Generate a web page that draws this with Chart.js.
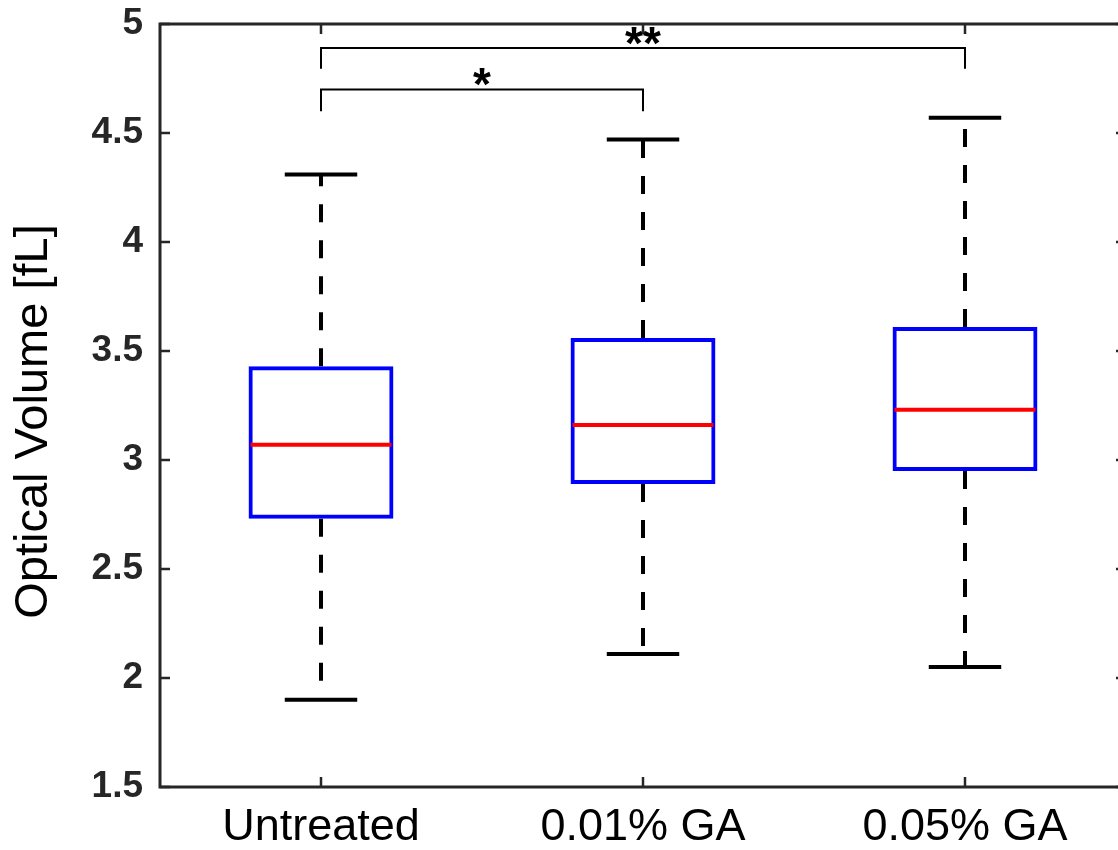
<!DOCTYPE html>
<html>
<head>
<meta charset="utf-8">
<title>Optical Volume boxplot</title>
<script src="https://cdn.jsdelivr.net/npm/chart.js@4"></script>
<style>
    html, body { margin: 0; padding: 0; background: #fff; overflow: hidden; }
    #wrap { width: 1118px; height: 850px; overflow: hidden; }
    canvas { display: block; }
</style>
</head>
<body>
<div id="wrap">
    <canvas id="box-chart" width="1140" height="850"></canvas>
</div>
<script>
// Data
const categories = ['Untreated', '0.01% GA', '0.05% GA'];
const whiskerLow = [1.90, 2.11, 2.05];
const q1 = [2.73, 2.89, 2.95];
const medians = [3.07, 3.16, 3.23];
const q3 = [3.43, 3.56, 3.61];
const whiskerHigh = [4.31, 4.47, 4.57];
const yTicks = [1.5, 2, 2.5, 3, 3.5, 4, 4.5, 5];

// Significance brackets: category pairs, label, bracket level and drop end (data units)
const sigPairs = [[0, 1], [0, 2]];
const sigLabels = ['*', '**'];
const sigLevels = [4.70, 4.89];
const sigDrops = [4.60, 4.795];

const yTitle = 'Optical Volume [fL]';

const FONT = "'Liberation Sans', Arial, Helvetica, sans-serif";
const AXIS_COLOR = '#262626';

// Whiskers, caps, medians, frame with inward ticks, brackets, y title
const boxExtras = {
    id: 'boxExtras',
    afterDatasetsDraw(chart) {
        const ctx = chart.ctx;
        const y = chart.scales.y;
        const meta = chart.getDatasetMeta(0);
        ctx.save();
        meta.data.forEach((bar, i) => {
            const cx = bar.x;
            const half = bar.width / 2;
            const capHalf = half / 2;
            // dashed whiskers
            ctx.strokeStyle = '#000';
            ctx.lineWidth = 4;
            ctx.setLineDash([18, 18]);
            ctx.beginPath();
            ctx.moveTo(cx, y.getPixelForValue(q3[i]));
            ctx.lineTo(cx, y.getPixelForValue(whiskerHigh[i]));
            ctx.moveTo(cx, y.getPixelForValue(q1[i]));
            ctx.lineTo(cx, y.getPixelForValue(whiskerLow[i]));
            ctx.stroke();
            // caps
            ctx.setLineDash([]);
            ctx.beginPath();
            [whiskerHigh[i], whiskerLow[i]].forEach(v => {
                const py = y.getPixelForValue(v);
                ctx.moveTo(cx - capHalf, py);
                ctx.lineTo(cx + capHalf, py);
            });
            ctx.stroke();
            // median
            ctx.strokeStyle = '#ff0000';
            ctx.beginPath();
            const my = y.getPixelForValue(medians[i]);
            ctx.moveTo(cx - half + 2, my);
            ctx.lineTo(cx + half - 2, my);
            ctx.stroke();
        });
        ctx.restore();
    },
    afterDraw(chart) {
        const ctx = chart.ctx;
        const area = chart.chartArea;
        const x = chart.scales.x;
        const y = chart.scales.y;
        const tick = 10;
        ctx.save();
        ctx.strokeStyle = AXIS_COLOR;
        ctx.lineWidth = 3;
        ctx.strokeRect(area.left, area.top, area.right - area.left, area.bottom - area.top);
        ctx.lineWidth = 2.5;
        ctx.beginPath();
        yTicks.forEach(v => {
            const py = y.getPixelForValue(v);
            ctx.moveTo(area.left, py);
            ctx.lineTo(area.left + tick, py);
            ctx.moveTo(area.right, py);
            ctx.lineTo(area.right - tick, py);
        });
        categories.forEach((c, i) => {
            const px = x.getPixelForValue(i);
            ctx.moveTo(px, area.bottom);
            ctx.lineTo(px, area.bottom - tick);
            ctx.moveTo(px, area.top);
            ctx.lineTo(px, area.top + tick);
        });
        ctx.stroke();

        // significance brackets
        ctx.strokeStyle = '#000';
        ctx.fillStyle = '#000';
        ctx.lineWidth = 2;
        ctx.font = 'bold 46px ' + FONT;
        ctx.textAlign = 'center';
        ctx.textBaseline = 'alphabetic';
        sigPairs.forEach((pair, k) => {
            const x1 = x.getPixelForValue(pair[0]);
            const x2 = x.getPixelForValue(pair[1]);
            const top = y.getPixelForValue(sigLevels[k]);
            const drop = y.getPixelForValue(sigDrops[k]);
            ctx.beginPath();
            ctx.moveTo(x1, drop);
            ctx.lineTo(x1, top);
            ctx.lineTo(x2, top);
            ctx.lineTo(x2, drop);
            ctx.stroke();
            ctx.fillText(sigLabels[k], (x1 + x2) / 2, top + 11);
        });

        // y axis title, sits a little below the axis centre like the original
        ctx.font = '47px ' + FONT;
        ctx.textBaseline = 'middle';
        ctx.translate(34, (area.top + area.bottom) / 2 + 16);
        ctx.rotate(-Math.PI / 2);
        ctx.fillText(yTitle, 0, 0);
        ctx.restore();
    }
};

const initializeChart = () => {
    const canvas = document.getElementById('box-chart');
    const ctx = canvas.getContext('2d');
    new Chart(ctx, {
        type: 'bar',
        data: {
            labels: categories,
            datasets: [{
                label: 'Optical Volume',
                data: q1.map((v, i) => [v, q3[i]]),
                backgroundColor: 'rgba(255, 255, 255, 0)',
                borderColor: '#0000ff',
                borderWidth: 4,
                borderSkipped: false,
                barPercentage: 0.45,
                categoryPercentage: 1.0
            }]
        },
        options: {
            responsive: false,
            devicePixelRatio: 1,
            animation: false,
            layout: {
                padding: { left: 0, top: 24, right: 14, bottom: 0 }
            },
            plugins: {
                legend: { display: false },
                tooltip: { enabled: false }
            },
            scales: {
                x: {
                    type: 'category',
                    offset: true,
                    grid: { display: false, drawTicks: false },
                    border: { display: false },
                    ticks: {
                        color: '#000',
                        padding: 14,
                        maxRotation: 0,
                        font: { family: FONT, size: 45 }
                    },
                    afterFit: (scale) => { scale.height = 63; }
                },
                y: {
                    min: 1.5,
                    max: 5,
                    grid: { display: false, drawTicks: false },
                    border: { display: false },
                    afterBuildTicks: (scale) => {
                        scale.ticks = yTicks.map(v => ({ value: v }));
                    },
                    ticks: {
                        color: AXIS_COLOR,
                        padding: 17,
                        font: { family: FONT, size: 37, weight: 'bold' },
                        callback: (value) => String(value)
                    },
                    afterFit: (scale) => {
                        scale.width = 160;
                        scale.paddingTop = 0;
                        scale.paddingBottom = 0;
                    }
                }
            }
        },
        plugins: [boxExtras]
    });
};

document.addEventListener('DOMContentLoaded', () => {
    initializeChart();
});
</script>
</body>
</html>
